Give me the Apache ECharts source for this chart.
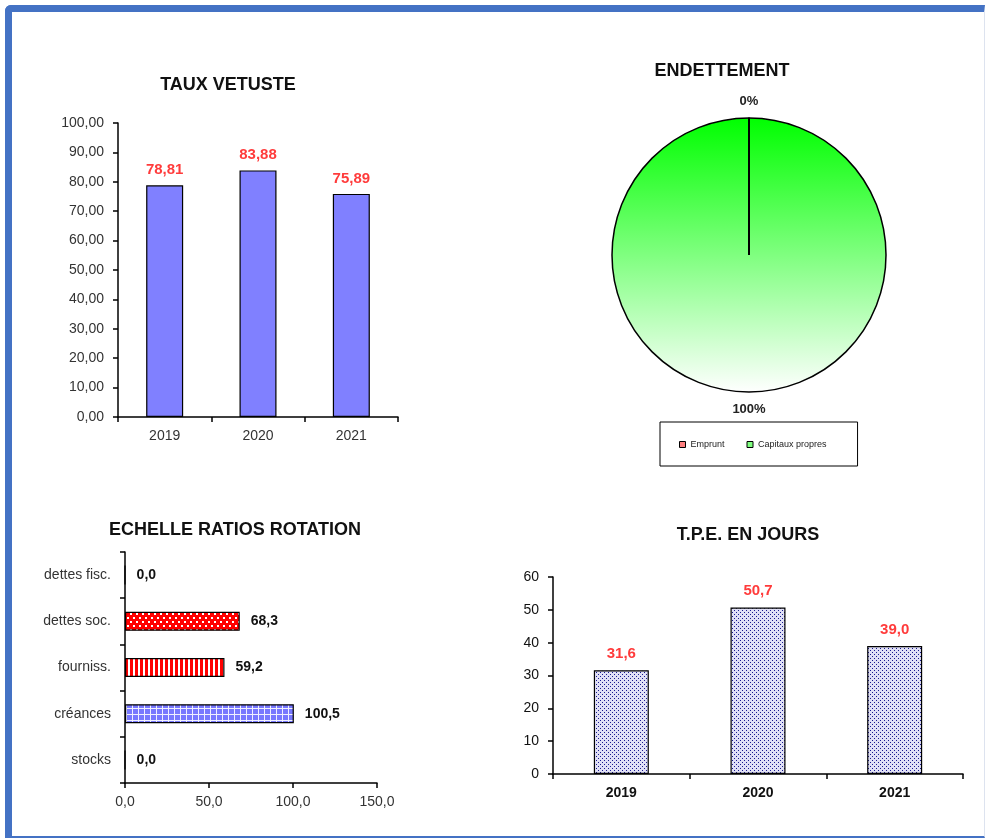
<!DOCTYPE html>
<html>
<head>
<meta charset="utf-8">
<script src="https://cdn.jsdelivr.net/npm/echarts@6/dist/echarts.min.js"></script>
<style>
html, body { margin: 0; padding: 0; background: #fff; }
/* cadre bleu autour de la feuille */
#frame {
    position: absolute; left: 5px; top: 5px; width: 980px; height: 833px;
    box-sizing: border-box;
    border-top: 7px solid #4472C4; border-left: 7px solid #4472C4;
    border-bottom: 2px solid #4472C4; border-right: 1px solid #dde3ef;
    border-top-left-radius: 6px;
}
#chart { position: absolute; left: 0; top: 0; width: 985px; height: 839px; }
</style>
</head>
<body>
<div id="frame"></div>
<div id="chart"></div>
<script>
// données
var vetusteYears = ['2019', '2020', '2021'];
var vetusteValues = [78.81, 83.88, 75.89];

var debtNames = ['Emprunt', 'Capitaux propres'];
var debtValues = [0, 100];

var rotationCats = ['stocks', 'créances', 'fourniss.', 'dettes soc.', 'dettes fisc.'];
var rotationValues = [0, 100.5, 59.2, 68.3, 0];

var tpeYears = ['2019', '2020', '2021'];
var tpeValues = [31.6, 50.7, 39.0];

var FONT = '"Liberation Sans", Arial, sans-serif';
var RED_LABEL = '#FF3B3B';

function comma(v, d) {
    return Number(v).toFixed(d).replace('.', ',');
}

// petits motifs de remplissage (style Excel)
function pattern(w, h, draw) {
    var c = document.createElement('canvas');
    c.width = w;
    c.height = h;
    draw(c.getContext('2d'));
    return { image: c, repeat: 'repeat' };
}
var redDots = pattern(6, 8, function (ctx) {
    ctx.fillStyle = '#FF0000'; ctx.fillRect(0, 0, 6, 8);
    ctx.fillStyle = '#FFFFFF'; ctx.fillRect(1, 1, 2, 2); ctx.fillRect(4, 5, 2, 2);
});
var redStripes = pattern(5, 4, function (ctx) {
    ctx.fillStyle = '#FF0000'; ctx.fillRect(0, 0, 5, 4);
    ctx.fillStyle = '#FFFFFF'; ctx.fillRect(3, 0, 2, 4);
});
var blueGrid = pattern(6, 6, function (ctx) {
    ctx.fillStyle = '#7878FF'; ctx.fillRect(0, 0, 6, 6);
    ctx.fillStyle = '#F0F0FF'; ctx.fillRect(0, 0, 6, 1); ctx.fillRect(0, 0, 1, 6);
});
var navyDots = pattern(4, 4, function (ctx) {
    ctx.fillStyle = '#E0E0F6'; ctx.fillRect(0, 0, 4, 4);
    ctx.fillStyle = '#1A1A90'; ctx.fillRect(0, 0, 1, 1); ctx.fillRect(2, 2, 1, 1);
});
var rotationFills = [redDots, blueGrid, redStripes, redDots, redDots];

var debtColors = [
    '#FF8080',
    { type: 'linear', x: 0, y: 0, x2: 0, y2: 1,
      colorStops: [{ offset: 0, color: '#00FF00' }, { offset: 1, color: '#FFFFFF' }] }
];
var debtLegendColors = ['#FF8080', '#80FF80'];
var debtTotal = debtValues.reduce(function (a, b) { return a + b; }, 0);

var axisLine = { show: true, lineStyle: { color: '#000', width: 1.5 } };
var axisTick = { show: true, length: 5, lineStyle: { color: '#000', width: 1.5 } };
var axisLabel = { color: '#333', fontSize: 14, fontFamily: FONT };

function titleText(text, x, y) {
    return {
        type: 'text', x: x, y: y,
        style: { text: text, align: 'center', verticalAlign: 'middle',
                 font: 'bold 18px ' + FONT, fill: '#111' }
    };
}

var chart = echarts.init(document.getElementById('chart'));

var option = {
    backgroundColor: 'transparent',
    animation: false,
    graphic: [
        titleText('TAUX VETUSTE', 228, 85),
        titleText('ENDETTEMENT', 722, 71),
        titleText('ECHELLE RATIOS ROTATION', 235, 530),
        titleText('T.P.E. EN JOURS', 748, 535)
    ],
    legend: {
        left: 660, top: 422,
        orient: 'horizontal',
        padding: [18, 31, 17, 19],
        itemGap: 22, itemWidth: 6, itemHeight: 6,
        icon: 'rect',
        borderColor: '#000', borderWidth: 1,
        textStyle: { fontSize: 9, color: '#222', fontFamily: FONT },
        data: debtNames.map(function (n, i) {
            return { name: n, itemStyle: { color: debtLegendColors[i], borderColor: '#000', borderWidth: 1 } };
        })
    },
    grid: [
        { left: 118, top: 123, width: 280, height: 294 },
        { left: 125, top: 552, width: 252, height: 231 },
        { left: 553, top: 577, width: 410, height: 197 }
    ],
    xAxis: [
        { type: 'category', gridIndex: 0, data: vetusteYears,
          axisLine: axisLine, axisTick: axisTick, splitLine: { show: false },
          axisLabel: Object.assign({ margin: 12 }, axisLabel) },
        { type: 'value', gridIndex: 1, min: 0, max: 150, interval: 50,
          axisLine: axisLine, axisTick: axisTick, splitLine: { show: false },
          axisLabel: Object.assign({ margin: 12, formatter: function (v) { return comma(v, 1); } }, axisLabel) },
        { type: 'category', gridIndex: 2, data: tpeYears,
          axisLine: axisLine, axisTick: axisTick, splitLine: { show: false },
          axisLabel: Object.assign({}, axisLabel, { margin: 12, color: '#111', fontWeight: 'bold' }) }
    ],
    yAxis: [
        { type: 'value', gridIndex: 0, min: 0, max: 100, interval: 10,
          axisLine: axisLine, axisTick: axisTick, splitLine: { show: false },
          axisLabel: Object.assign({ margin: 14, formatter: function (v) { return comma(v, 2); } }, axisLabel) },
        { type: 'category', gridIndex: 1, data: rotationCats,
          axisLine: axisLine, axisTick: axisTick, splitLine: { show: false },
          axisLabel: Object.assign({ margin: 14 }, axisLabel) },
        { type: 'value', gridIndex: 2, min: 0, max: 60, interval: 10,
          axisLine: axisLine, axisTick: axisTick, splitLine: { show: false },
          axisLabel: Object.assign({}, axisLabel, { margin: 14, color: '#111' }) }
    ],
    series: [
        {
            name: 'Taux vétusté', type: 'bar', xAxisIndex: 0, yAxisIndex: 0,
            barWidth: 37,
            itemStyle: { color: '#8080FF', borderColor: '#000', borderWidth: 1.2 },
            label: { show: true, position: 'top', distance: 8, color: RED_LABEL,
                     fontWeight: 'bold', fontSize: 15, fontFamily: FONT,
                     formatter: function (p) { return comma(p.value, 2); } },
            emphasis: { disabled: true },
            data: vetusteValues
        },
        {
            name: 'Endettement', type: 'pie',
            center: [749, 255], radius: 137,
            startAngle: 90, clockwise: true,
            avoidLabelOverlap: false,
            z: 2,
            label: { show: true, position: 'outside', formatter: '{a|{d}%}',
                     distanceToLabelLine: -20,
                     rich: { a: { width: 40, align: 'center', fontWeight: 'bold', fontSize: 13,
                                  color: '#222', fontFamily: FONT } } },
            labelLine: { show: false, length: 17, length2: 0 },
            itemStyle: { borderColor: '#000', borderWidth: 1.5 },
            emphasis: { disabled: true },
            data: debtNames.map(function (n, i) {
                return { name: n, value: debtValues[i], itemStyle: { color: debtColors[i] } };
            })
        },
        {
            // trait de séparation des parts (part emprunt en % du total)
            name: 'Séparation', type: 'gauge',
            center: [749, 255], radius: 137,
            startAngle: 90, endAngle: -270, min: 0, max: 100,
            z: 10,
            axisLine: { show: false, lineStyle: { width: 0 } },
            splitLine: { show: false }, progress: { show: false },
            axisTick: { show: false }, axisLabel: { show: false },
            pointer: { show: true, icon: 'rect', length: '100%', width: 2,
                       itemStyle: { color: '#000' } },
            anchor: { show: false }, title: { show: false }, detail: { show: false },
            emphasis: { disabled: true },
            data: [{ value: debtValues[0] / debtTotal * 100 }]
        },
        {
            name: 'Rotation', type: 'bar', xAxisIndex: 1, yAxisIndex: 1,
            barWidth: 19,
            itemStyle: { borderColor: '#000', borderWidth: 1.2 },
            label: { show: true, position: 'right', distance: 11, color: '#111',
                     fontWeight: 'bold', fontSize: 14, fontFamily: FONT,
                     formatter: function (p) { return comma(p.value, 1); } },
            emphasis: { disabled: true },
            data: rotationValues.map(function (v, i) {
                return { value: v, itemStyle: { color: rotationFills[i] } };
            })
        },
        {
            name: 'TPE', type: 'bar', xAxisIndex: 2, yAxisIndex: 2,
            barWidth: 55,
            itemStyle: { color: navyDots, borderColor: '#000', borderWidth: 1.2 },
            label: { show: true, position: 'top', distance: 9, color: RED_LABEL,
                     fontWeight: 'bold', fontSize: 15, fontFamily: FONT,
                     formatter: function (p) { return comma(p.value, 1); } },
            emphasis: { disabled: true },
            data: tpeValues
        }
    ]
};

chart.setOption(option);
</script>
</body>
</html>
